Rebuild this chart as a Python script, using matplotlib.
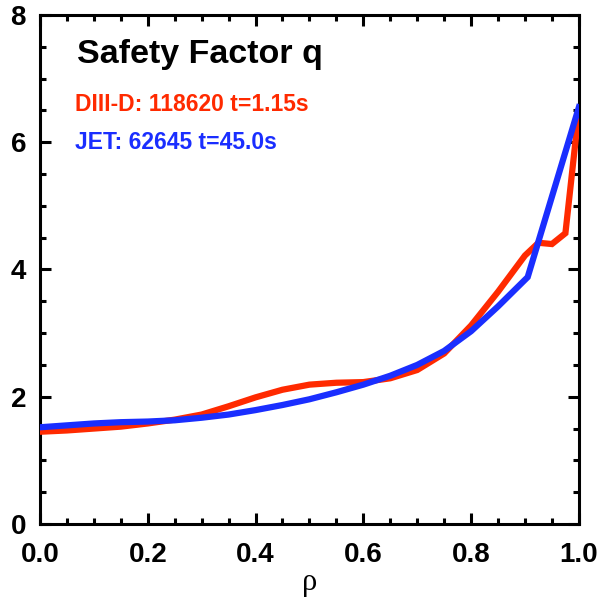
import matplotlib
matplotlib.use("Agg")
import matplotlib.pyplot as plt
from matplotlib.ticker import MultipleLocator, FormatStrFormatter
from matplotlib import font_manager

names = {f.name for f in font_manager.fontManager.ttflist}
sans = ['Liberation Sans Narrow', 'Liberation Sans', 'DejaVu Sans']
sans = [n for n in sans if n in names] or ['DejaVu Sans']

rho_d3d = [0.00, 0.05, 0.10, 0.15, 0.20, 0.25, 0.30, 0.35, 0.40, 0.45, 0.50, 0.55,
           0.60, 0.65, 0.70, 0.75, 0.80, 0.85, 0.90, 0.925, 0.95, 0.975, 1.00]
q_d3d = [1.45, 1.47, 1.50, 1.53, 1.58, 1.64, 1.72, 1.85, 1.99, 2.11, 2.19, 2.22,
         2.23, 2.29, 2.42, 2.68, 3.12, 3.65, 4.22, 4.42, 4.40, 4.57, 6.50]

rho_jet = [0.00, 0.05, 0.10, 0.15, 0.20, 0.25, 0.30, 0.35, 0.40, 0.45, 0.50, 0.55,
           0.60, 0.65, 0.70, 0.75, 0.80, 0.85, 0.905, 1.00]
q_jet = [1.52, 1.55, 1.58, 1.60, 1.61, 1.63, 1.67, 1.72, 1.79, 1.87, 1.96, 2.07,
         2.19, 2.33, 2.50, 2.72, 3.03, 3.42, 3.88, 6.55]

title = "Safety Factor q"
label_d3d = "DIII-D: 118620 t=1.15s"
label_jet = "JET: 62645 t=45.0s"

RED = "#FF2A00"
BLUE = "#1A2EFF"

fig = plt.figure(figsize=(6.03, 6.0), dpi=100)
ax = fig.add_axes([0.0663, 0.1267, 0.8937, 0.8483])

ax.plot(rho_d3d, q_d3d, color=RED, lw=4.5, solid_joinstyle='miter', zorder=3)
ax.plot(rho_jet, q_jet, color=BLUE, lw=4.5, solid_joinstyle='miter', zorder=4)

ax.set_xlim(0, 1)
ax.set_ylim(0, 8)
ax.xaxis.set_major_locator(MultipleLocator(0.2))
ax.xaxis.set_minor_locator(MultipleLocator(0.05))
ax.yaxis.set_major_locator(MultipleLocator(2))
ax.yaxis.set_minor_locator(MultipleLocator(0.5))
ax.xaxis.set_major_formatter(FormatStrFormatter('%.1f'))
ax.yaxis.set_major_formatter(FormatStrFormatter('%d'))

ax.tick_params(which='both', direction='in', top=True, right=True, width=2.2)
ax.tick_params(which='major', length=8, labelsize=20)
ax.tick_params(axis='x', which='major', pad=13)
ax.tick_params(axis='y', which='major', pad=10)
ax.tick_params(which='minor', length=4)
for s in ax.spines.values():
    s.set_linewidth(2.2)

ax.set_xlabel("ρ", fontsize=22, family=['Liberation Serif', 'DejaVu Serif'], labelpad=0)

ax.text(0.068, 0.905, title, transform=ax.transAxes, fontsize=24.5, fontweight='bold',
        family=sans, color='black')
ax.text(0.065, 0.812, label_d3d, transform=ax.transAxes, fontsize=16.5, fontweight='bold',
        family=sans, color=RED)
ax.text(0.065, 0.737, label_jet, transform=ax.transAxes, fontsize=16.5, fontweight='bold',
        family=sans, color=BLUE)

for lab in ax.get_xticklabels() + ax.get_yticklabels():
    lab.set_fontfamily(sans)
    lab.set_fontweight('bold')

fig.savefig("out.png", dpi=100)
